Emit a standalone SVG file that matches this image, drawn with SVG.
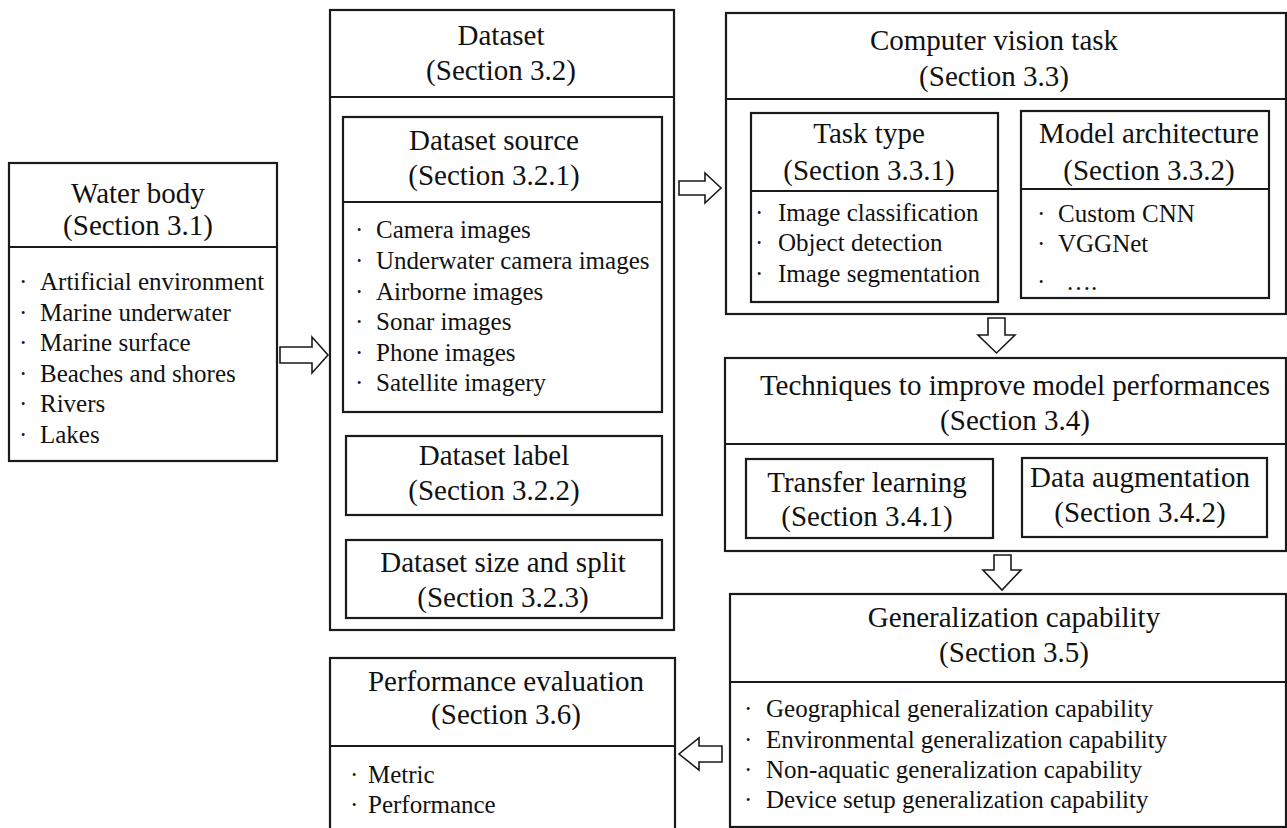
<svg xmlns="http://www.w3.org/2000/svg" width="1287" height="828" viewBox="0 0 1287 828">
<style>
  .box { fill: #fff; stroke: #1a1a1a; stroke-width: 2.2; }
  .ln { stroke: #1a1a1a; stroke-width: 2.2; fill: none; }
  .t { font-family: "Liberation Serif", "Times New Roman", serif; font-size: 29px; fill: #111; text-anchor: middle; }
  .b { font-family: "Liberation Serif", "Times New Roman", serif; font-size: 25px; fill: #111; }
  .arr { fill: #fff; stroke: #1a1a1a; stroke-width: 1.6; stroke-linejoin: miter; }
</style>
<rect width="1287" height="828" fill="#fff"/>

<g id="water-body">
  <rect class="box" x="9" y="163" width="268" height="298"/>
  <line class="ln" x1="9" y1="247" x2="277" y2="247"/>
  <text class="t" x="138" y="203">Water body</text>
  <text class="t" x="138" y="235">(Section 3.1)</text>
  <g class="b">
    <text x="19" y="290">·</text><text x="40" y="290">Artificial environment</text>
    <text x="19" y="321">·</text><text x="40" y="321">Marine underwater</text>
    <text x="19" y="351">·</text><text x="40" y="351">Marine surface</text>
    <text x="19" y="382">·</text><text x="40" y="382">Beaches and shores</text>
    <text x="19" y="412">·</text><text x="40" y="412">Rivers</text>
    <text x="19" y="443">·</text><text x="40" y="443">Lakes</text>
  </g>
</g>

<g id="dataset">
  <rect class="box" x="330" y="10" width="344" height="620"/>
  <line class="ln" x1="330" y1="97" x2="674" y2="97"/>
  <text class="t" x="501" y="45">Dataset</text>
  <text class="t" x="501" y="80">(Section 3.2)</text>
</g>

<g id="dataset-source">
  <rect class="box" x="343" y="117" width="319" height="295"/>
  <line class="ln" x1="343" y1="202" x2="662" y2="202"/>
  <text class="t" x="494" y="150">Dataset source</text>
  <text class="t" x="494" y="185">(Section 3.2.1)</text>
  <g class="b">
    <text x="355" y="238">·</text><text x="376" y="238">Camera images</text>
    <text x="355" y="269">·</text><text x="376" y="269">Underwater camera images</text>
    <text x="355" y="300">·</text><text x="376" y="300">Airborne images</text>
    <text x="355" y="330">·</text><text x="376" y="330">Sonar images</text>
    <text x="355" y="361">·</text><text x="376" y="361">Phone images</text>
    <text x="355" y="391">·</text><text x="376" y="391">Satellite imagery</text>
  </g>
</g>

<g id="dataset-label">
  <rect class="box" x="346" y="436" width="316" height="79"/>
  <text class="t" x="494" y="465">Dataset label</text>
  <text class="t" x="494" y="500">(Section 3.2.2)</text>
</g>

<g id="dataset-size">
  <rect class="box" x="346" y="540" width="316" height="78"/>
  <text class="t" x="503" y="572">Dataset size and split</text>
  <text class="t" x="503" y="607">(Section 3.2.3)</text>
</g>

<g id="cv-task">
  <rect class="box" x="726" y="13" width="560" height="301"/>
  <line class="ln" x1="726" y1="99" x2="1286" y2="99"/>
  <text class="t" x="994" y="50">Computer vision task</text>
  <text class="t" x="994" y="86">(Section 3.3)</text>
</g>

<g id="task-type">
  <rect class="box" x="751" y="113" width="247" height="189"/>
  <line class="ln" x1="751" y1="191" x2="998" y2="191"/>
  <text class="t" x="869" y="143">Task type</text>
  <text class="t" x="869" y="180">(Section 3.3.1)</text>
  <g class="b">
    <text x="755" y="221">·</text><text x="778" y="221">Image classification</text>
    <text x="755" y="251">·</text><text x="778" y="251">Object detection</text>
    <text x="755" y="282">·</text><text x="778" y="282">Image segmentation</text>
  </g>
</g>

<g id="model-architecture">
  <rect class="box" x="1021" y="111" width="248" height="187"/>
  <line class="ln" x1="1021" y1="189" x2="1269" y2="189"/>
  <text class="t" x="1149" y="143">Model architecture</text>
  <text class="t" x="1149" y="180">(Section 3.3.2)</text>
  <g class="b">
    <text x="1037" y="222">·</text><text x="1058" y="222">Custom CNN</text>
    <text x="1037" y="252">·</text><text x="1058" y="252">VGGNet</text>
    <text x="1037" y="290">·</text><text x="1066" y="290">….</text>
  </g>
</g>

<g id="techniques">
  <rect class="box" x="725" y="358" width="561" height="193"/>
  <line class="ln" x1="725" y1="444" x2="1286" y2="444"/>
  <text class="t" x="1015" y="395">Techniques to improve model performances</text>
  <text class="t" x="1015" y="430">(Section 3.4)</text>
</g>

<g id="transfer-learning">
  <rect class="box" x="746" y="459" width="247" height="79"/>
  <text class="t" x="867" y="492">Transfer learning</text>
  <text class="t" x="867" y="526">(Section 3.4.1)</text>
</g>

<g id="data-augmentation">
  <rect class="box" x="1022" y="458" width="245" height="79"/>
  <text class="t" x="1140" y="487">Data augmentation</text>
  <text class="t" x="1140" y="522">(Section 3.4.2)</text>
</g>

<g id="generalization">
  <rect class="box" x="730" y="594" width="556" height="233"/>
  <line class="ln" x1="730" y1="682" x2="1286" y2="682"/>
  <text class="t" x="1014" y="627">Generalization capability</text>
  <text class="t" x="1014" y="662">(Section 3.5)</text>
  <g class="b">
    <text x="744" y="717">·</text><text x="766" y="717">Geographical generalization capability</text>
    <text x="744" y="748">·</text><text x="766" y="748">Environmental generalization capability</text>
    <text x="744" y="778">·</text><text x="766" y="778">Non-aquatic generalization capability</text>
    <text x="744" y="808">·</text><text x="766" y="808">Device setup generalization capability</text>
  </g>
</g>

<g id="performance-evaluation">
  <rect class="box" x="330" y="658" width="345" height="175"/>
  <line class="ln" x1="330" y1="746" x2="675" y2="746"/>
  <text class="t" x="506" y="691">Performance evaluation</text>
  <text class="t" x="506" y="724">(Section 3.6)</text>
  <g class="b">
    <text x="350" y="783">·</text><text x="368" y="783">Metric</text>
    <text x="350" y="813">·</text><text x="368" y="813">Performance</text>
  </g>
</g>

<g id="connectors">
  <polygon class="arr" points="280,347 312,347 312,337 328,355 312,373 312,363 280,363"/>
  <polygon class="arr" points="679,181 705,181 705,173 721,188 705,203 705,195 679,195"/>
  <polygon class="arr" points="988,318 1005,318 1005,335 1015,335 996.5,353 978,335 988,335"/>
  <polygon class="arr" points="994,555 1011,555 1011,570 1021,570 1002,590 983,570 994,570"/>
  <polygon class="arr" points="722,746 699,746 699,738 679,754 699,770 699,762 722,762"/>
</g>
</svg>
